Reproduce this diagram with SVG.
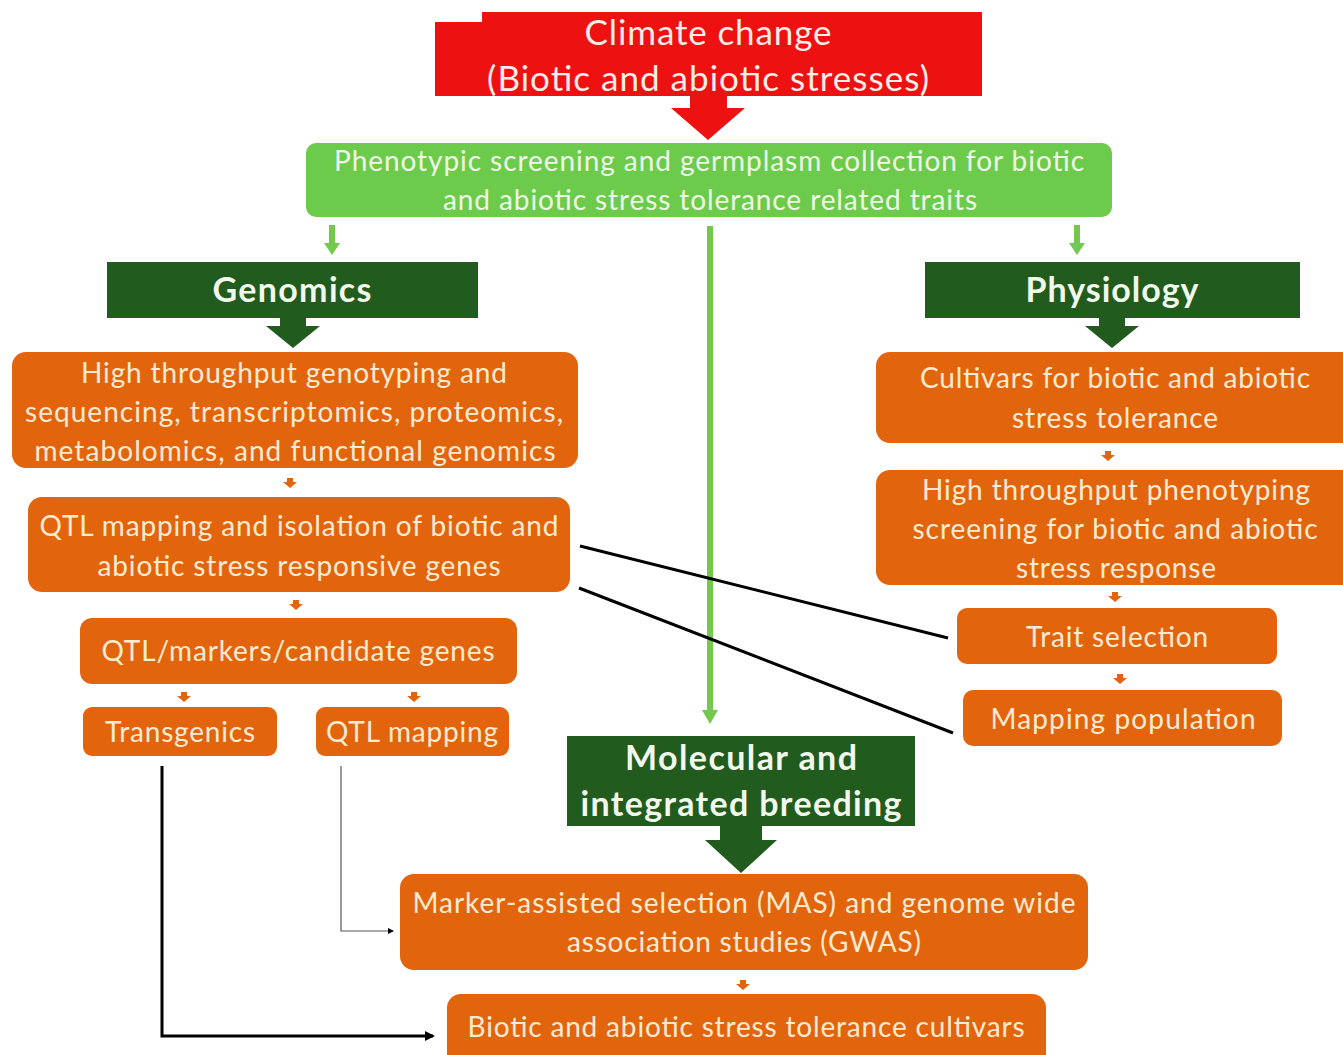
<svg xmlns="http://www.w3.org/2000/svg" width="1343" height="1055" viewBox="0 0 1343 1055">
<defs>
<style>
.t{font-family:Lato,"Liberation Sans",sans-serif;text-anchor:middle;}
.o{fill:#E2650E;}
.ot{fill:#FCEBD2;font-size:28px;}
.dg{fill:#215B1D;}
.dgt{fill:#F2F8EC;font-size:34px;font-weight:bold;}
.sa{fill:#E2650E;}
</style>
<marker id="ah" markerWidth="10" markerHeight="10" refX="8" refY="5" orient="auto" markerUnits="userSpaceOnUse">
<path d="M0,0 L10,5 L0,10 z" fill="#000"/>
</marker>
<marker id="ahs" markerWidth="6" markerHeight="6" refX="5" refY="3" orient="auto" markerUnits="userSpaceOnUse">
<path d="M0,0 L6,3 L0,6 z" fill="#000"/>
</marker>
</defs>
<rect width="1343" height="1055" fill="#fff"/>

<g id="connectors">
<line x1="710" y1="226" x2="710" y2="712" stroke="#72C94B" stroke-width="6"/>
<path d="M702,710 L718,710 L710,724 z" fill="#72C94B"/>
<path d="M329,225 h6 v18 h5 l-8,12 l-8,-12 h5 z" fill="#72C94B"/>
<path d="M1074,225 h6 v18 h5 l-8,12 l-8,-12 h5 z" fill="#72C94B"/>
<line x1="580" y1="546" x2="948" y2="638" stroke="#000" stroke-width="3"/>
<line x1="579" y1="588" x2="953" y2="733" stroke="#000" stroke-width="3"/>
<polyline points="162,766 162,1036 433,1036" fill="none" stroke="#000" stroke-width="3" marker-end="url(#ah)"/>
<polyline points="341,766 341,931 393,931" fill="none" stroke="#555" stroke-width="1.2" marker-end="url(#ahs)"/>
<path d="M287,478 h6 v4 h4 l-7,6 l-7,-6 h4 z" class="sa"/>
<path d="M293,600 h6 v4 h4 l-7,6 l-7,-6 h4 z" class="sa"/>
<path d="M181,692 h6 v4 h4 l-7,6 l-7,-6 h4 z" class="sa"/>
<path d="M411,692 h6 v4 h4 l-7,6 l-7,-6 h4 z" class="sa"/>
<path d="M1105,451 h6 v4 h4 l-7,6 l-7,-6 h4 z" class="sa"/>
<path d="M1112,592 h6 v4 h4 l-7,6 l-7,-6 h4 z" class="sa"/>
<path d="M1117,674 h6 v4 h4 l-7,6 l-7,-6 h4 z" class="sa"/>
<path d="M740,980 h6 v4 h4 l-7,6 l-7,-6 h4 z" class="sa"/>
</g>

<g id="climate">
<rect x="435" y="12" width="547" height="84" fill="#EE1111"/>
<rect x="430" y="8" width="52" height="14" fill="#fff"/>
<path d="M690,96 h37 v12 h18 l-37,32 l-37,-32 h19 z" fill="#EE1111"/>
<text class="t" x="708" y="45" font-size="35" fill="#FBEDE6" textLength="247">Climate change</text>
<text class="t" x="708" y="91" font-size="35" fill="#FBEDE6" textLength="442">(Biotic and abiotic stresses)</text>
</g>

<g id="phenotypic">
<rect x="306" y="143" width="806" height="74" rx="10" fill="#6DCB4C"/>
<text class="t" x="709" y="171" font-size="28" fill="#EEF8E6" textLength="750">Phenotypic screening and germplasm collection for biotic</text>
<text class="t" x="710" y="210" font-size="28" fill="#EEF8E6" textLength="534">and abiotic stress tolerance related traits</text>
</g>

<g id="genomics">
<rect x="107" y="262" width="371" height="56" class="dg"/>
<path d="M280,318 h26 v8 h14 l-27,22 l-27,-22 h14 z" class="dg"/>
<text class="t dgt" x="292" y="302" textLength="159">Genomics</text>
</g>

<g id="physiology">
<rect x="925" y="262" width="375" height="56" class="dg"/>
<path d="M1099,318 h26 v8 h14 l-27,22 l-27,-22 h14 z" class="dg"/>
<text class="t dgt" x="1112" y="302" textLength="173">Physiology</text>
</g>

<g id="htgenotyping">
<rect x="12" y="352" width="566" height="116" rx="14" class="o"/>
<text class="t ot" x="294" y="383" textLength="426">High throughput genotyping and</text>
<text class="t ot" x="294" y="422" textLength="538">sequencing, transcriptomics, proteomics,</text>
<text class="t ot" x="295" y="461" textLength="521">metabolomics, and functional genomics</text>
</g>

<g id="qtlisolation">
<rect x="28" y="497" width="542" height="95" rx="14" class="o"/>
<text class="t ot" x="299" y="536" textLength="519">QTL mapping and isolation of biotic and</text>
<text class="t ot" x="299" y="576" textLength="403">abiotic stress responsive genes</text>
</g>

<g id="candidates">
<rect x="80" y="618" width="437" height="66" rx="12" class="o"/>
<text class="t ot" x="298" y="661" textLength="393">QTL/markers/candidate genes</text>
</g>

<g id="transgenics">
<rect x="83" y="707" width="194" height="49" rx="9" class="o"/>
<text class="t ot" x="180" y="742" textLength="150">Transgenics</text>
</g>

<g id="qtlmapping">
<rect x="316" y="707" width="193" height="49" rx="9" class="o"/>
<text class="t ot" x="412" y="742" textLength="172">QTL mapping</text>
</g>

<g id="cultivars">
<rect x="876" y="352" width="480" height="91" rx="14" class="o"/>
<text class="t ot" x="1115" y="388" textLength="390">Cultivars for biotic and abiotic</text>
<text class="t ot" x="1115" y="428" textLength="206">stress tolerance</text>
</g>

<g id="htphenotyping">
<rect x="876" y="470" width="480" height="115" rx="14" class="o"/>
<text class="t ot" x="1116" y="500" textLength="388">High throughput phenotyping</text>
<text class="t ot" x="1115" y="539" textLength="405">screening for biotic and abiotic</text>
<text class="t ot" x="1116" y="578" textLength="200">stress response</text>
</g>

<g id="trait">
<rect x="957" y="608" width="320" height="56" rx="10" class="o"/>
<text class="t ot" x="1117" y="647" textLength="182">Trait selection</text>
</g>

<g id="mappingpop">
<rect x="963" y="690" width="319" height="56" rx="10" class="o"/>
<text class="t ot" x="1123" y="729" textLength="265">Mapping population</text>
</g>

<g id="molecular">
<rect x="567" y="736" width="348" height="90" class="dg"/>
<path d="M720,826 h42 v14 h15 l-36,33 l-36,-33 h15 z" class="dg"/>
<text class="t dgt" x="741" y="770" font-size="35" textLength="232">Molecular and</text>
<text class="t dgt" x="741" y="816" font-size="35" textLength="321">integrated breeding</text>
</g>

<g id="mas">
<rect x="400" y="874" width="688" height="96" rx="14" class="o"/>
<text class="t ot" x="744" y="913" textLength="663">Marker-assisted selection (MAS) and genome wide</text>
<text class="t ot" x="744" y="952" textLength="354">association studies (GWAS)</text>
</g>

<g id="tolerance">
<rect x="447" y="994" width="599" height="80" rx="14" class="o"/>
<text class="t ot" x="746" y="1037" textLength="557">Biotic and abiotic stress tolerance cultivars</text>
</g>
</svg>
